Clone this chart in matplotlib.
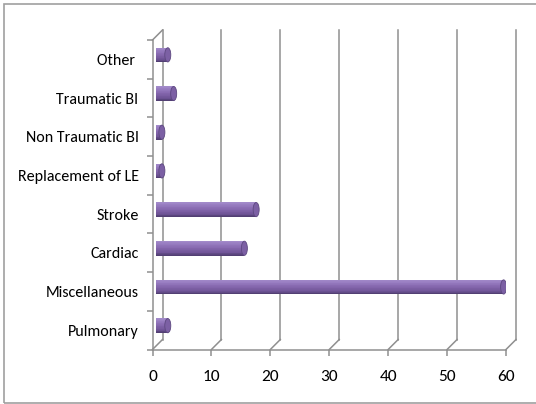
import matplotlib
matplotlib.use('Agg')
import matplotlib.pyplot as plt
from matplotlib.patches import Ellipse, Rectangle
from matplotlib.colors import LinearSegmentedColormap

# data (bottom to top, as drawn)
categories = ['Pulmonary', 'Miscellaneous', 'Cardiac', 'Stroke',
              'Replacement of LE', 'Non Traumatic BI', 'Traumatic BI', 'Other ']
values = [2, 59, 15, 17, 1, 1, 3, 2]
xticks = [0, 10, 20, 30, 40, 50, 60]

plt.rcParams['font.family'] = ['Carlito', 'DejaVu Sans']

W, H = 536, 404
fig = plt.figure(figsize=(W / 100, H / 100), dpi=100)
fig.patch.set_facecolor('white')

# front plot rectangle in pixels
x0_px, x1_px, top_px, bot_px = 152.5, 506, 40, 349.5
ax = fig.add_axes([x0_px / W, 1 - bot_px / H, (x1_px - x0_px) / W, (bot_px - top_px) / H])
ax.set_xlim(0, 60)
ax.set_ylim(-0.5, 7.5)
ax.patch.set_alpha(0)

px_x = (x1_px - x0_px) / 60.0
px_y = (bot_px - top_px) / 8.0
DX, DY = 10 / px_x, 10 / px_y          # depth of the 3d box
BX, BY = 3.5 / px_x, 4.5 / px_y        # bars sit a bit behind the front
bar_h = 14.5 / px_y
cap_w = 6 / px_x

grid_c = '#8f8f8f'
lw = 1.1

# back wall gridlines + floor diagonals
for t in xticks:
    ax.plot([t + DX, t + DX], [-0.5 + DY, 7.5 + DY], color=grid_c, lw=lw, clip_on=False, zorder=1)
    ax.plot([t, t + DX], [-0.5, -0.5 + DY], color=grid_c, lw=lw, clip_on=False, zorder=1)
ax.plot([0, DX], [7.5, 7.5 + DY], color=grid_c, lw=lw, clip_on=False, zorder=1)

# spines / ticks
for s in ['top', 'right']:
    ax.spines[s].set_visible(False)
for s in ['left', 'bottom']:
    ax.spines[s].set_color(grid_c)
    ax.spines[s].set_linewidth(lw)

ax.set_xticks(xticks)
ax.set_xticklabels([str(t) for t in xticks], fontsize=12.5)
ax.tick_params(axis='x', length=4, width=lw, color=grid_c, pad=11)

ax.set_yticks(range(len(categories)))
ax.set_yticklabels(categories, fontsize=11.5)
ax.set_yticks([i - 0.5 for i in range(len(categories) + 1)], minor=True)
ax.tick_params(axis='y', which='major', length=0, pad=10)
ax.tick_params(axis='y', which='minor', length=4, width=lw, color=grid_c)

# cylinders
cmap = LinearSegmentedColormap.from_list('cyl', [
    (0.0, '#a48ccb'), (0.15, '#9a80c3'), (0.45, '#8769b0'),
    (0.8, '#6f5496'), (1.0, '#4e3c6e')])
n = 20
for i, v in enumerate(values):
    yc = i + BY
    for k in range(n):
        f = (k + 0.5) / n
        ax.barh(yc + bar_h / 2 - f * bar_h, v, left=BX, height=bar_h / n * 1.15,
                color=cmap(f), linewidth=0, zorder=3)
    # end cap
    ax.add_patch(Ellipse((BX + v, yc), cap_w, bar_h * 0.98, facecolor='#7c60a4',
                         edgecolor='#5d4880', lw=0.6, zorder=4))

# chart area border
fig.add_artist(Rectangle((4 / W, 1.5 / H), 1.2, (400.5 - 1.5) / H, transform=fig.transFigure,
                         fill=False, edgecolor='#a0a0a0', lw=1.2))

fig.savefig('out.png', dpi=100)
